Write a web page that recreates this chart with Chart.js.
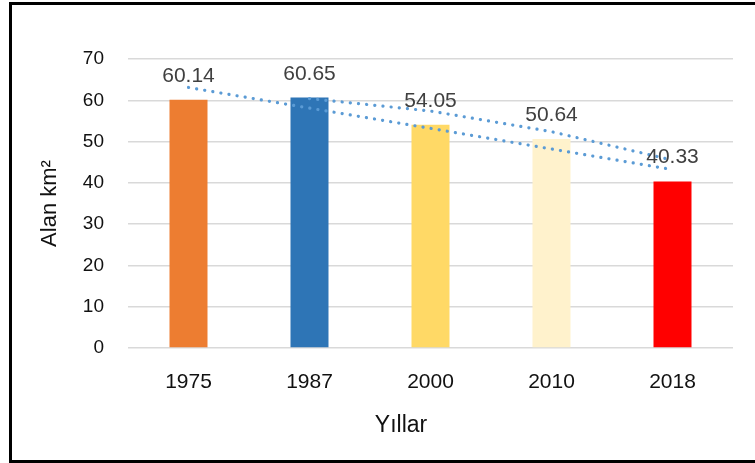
<!DOCTYPE html>
<html>
<head>
<meta charset="utf-8">
<script src="https://cdn.jsdelivr.net/npm/chart.js@4/dist/chart.umd.min.js"></script>
<style>
  body { margin: 0; background: #fff; overflow: hidden; }
  #wrap { position: relative; width: 755px; height: 463px; }
  #frame { position: absolute; left: 9px; top: 2px; width: 900px; height: 455px; border: 3px solid #000; pointer-events: none; }
  canvas { position: absolute; left: 0; top: 0; }
</style>
</head>
<body>
<div id="wrap">
  <canvas id="chart" width="755" height="463"></canvas>
  <div id="frame"></div>
</div>
<script>
// values
const years = ["1975", "1987", "2000", "2010", "2018"]
const area = [60.14, 60.65, 54.05, 50.64, 40.33]
const barColors = ["#ED7D31", "#2E75B6", "#FFD966", "#FFF2CC", "#FF0000"]
// the two dotted trend lines (linear + 2 period moving average)
const linearTrend = [63.1, 58.1, 53.2, 48.2, 43.2]
const movingAvg = [null, 60.4, 57.4, 52.4, 45.5]
const yTicks = [0, 10, 20, 30, 40, 50, 60, 70]

const font = "'Liberation Sans', Arial, sans-serif"

// value labels over bars + axis titles
const extras = {
  id: "extras",
  afterDatasetsDraw(chart) {
    const ctx = chart.ctx
    const meta = chart.getDatasetMeta(0)
    ctx.save()
    ctx.fillStyle = "#404040"
    ctx.font = "21px " + font
    ctx.textAlign = "center"
    ctx.textBaseline = "alphabetic"
    meta.data.forEach((bar, i) => {
      ctx.fillText(area[i].toFixed(2), bar.x, bar.y - 18)
    })
    ctx.restore()
  },
  afterDraw(chart) {
    const ctx = chart.ctx
    const area_ = chart.chartArea
    ctx.save()
    ctx.fillStyle = "#111"
    ctx.textAlign = "center"
    ctx.textBaseline = "alphabetic"
    ctx.font = "23px " + font
    ctx.fillText("Yıllar", 401, 432)
    ctx.translate(56, (area_.top + area_.bottom) / 2)
    ctx.rotate(-Math.PI / 2)
    ctx.font = "22px " + font
    ctx.fillText("Alan km²", 0, 0)
    ctx.restore()
  }
}

function dotted(data) {
  return {
    type: "line",
    data: data,
    borderColor: "#5B9BD5",
    borderWidth: 3.2,
    borderDash: [0.1, 8.1],
    borderCapStyle: "round",
    pointRadius: 0,
    tension: 0,
    fill: false,
    spanGaps: false,
    order: 1
  }
}

new Chart(document.getElementById("chart").getContext("2d"), {
  type: "bar",
  data: {
    labels: years,
    datasets: [
      {
        data: area,
        backgroundColor: barColors,
        categoryPercentage: 1,
        barPercentage: 0.314,
        order: 2
      },
      dotted(linearTrend),
      dotted(movingAvg)
    ]
  },
  options: {
    responsive: false,
    animation: false,
    layout: { padding: { top: 59, right: 22, bottom: 0, left: 0 } },
    plugins: { legend: { display: false }, tooltip: { enabled: false } },
    scales: {
      x: {
        grid: { display: false, drawTicks: false },
        border: { display: false },
        ticks: { color: "#111", font: { family: font, size: 21 }, padding: 22 },
        afterFit(scale) { scale.height = 115 }
      },
      y: {
        min: 0,
        max: 70,
        afterBuildTicks(scale) { scale.ticks = yTicks.map(v => ({ value: v })) },
        grid: { color: "#d9d9d9", lineWidth: 1.5, drawTicks: false },
        border: { display: false },
        ticks: { color: "#111", font: { family: font, size: 19 }, padding: 24 },
        afterFit(scale) { scale.width = 128 }
      }
    }
  },
  plugins: [extras]
})
</script>
</body>
</html>
